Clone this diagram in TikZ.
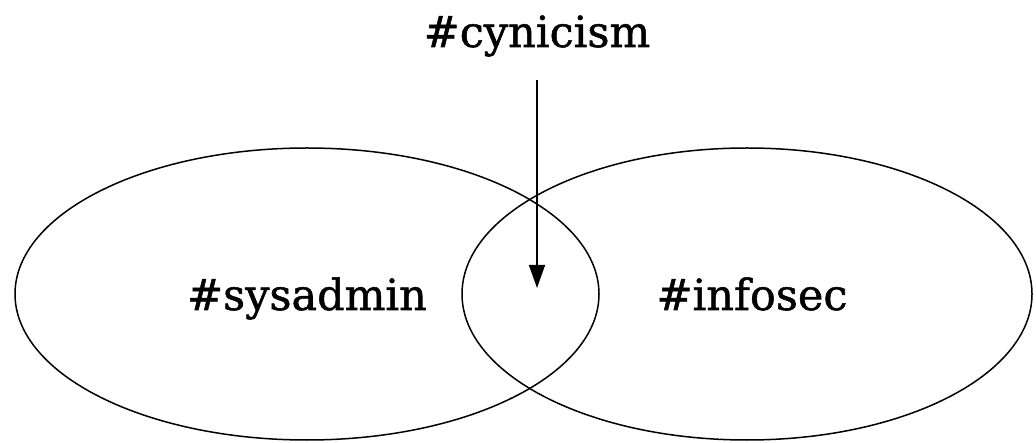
\documentclass[tikz,border=0pt]{standalone}
\usepackage{fontspec}
\setmainfont{DejaVu Serif}[FakeBold=1.2]
\usetikzlibrary{arrows.meta}
\begin{document}
\begin{tikzpicture}[x=1pt,y=-1pt,
  setbox/.style={draw=black,line width=1.5pt},
  label/.style={font=\fontsize{43}{48}\selectfont,inner sep=0pt,anchor=base},
  pointer/.style={line width=1.5pt,-{Triangle[length=23pt,width=16pt]}}]
\useasboundingbox (0,0) rectangle (1036,443);
\draw[setbox] (307,294) ellipse [x radius=292, y radius=146];
\draw[setbox] (747,294) ellipse [x radius=285, y radius=146];
\node[label] (cyn) at (537,47) {\#cynicism};
\node[label] (sys) at (307,310) {\#sysadmin};
\node[label] (inf) at (752,310) {\#infosec};
\coordinate (start) at (537,80);
\coordinate (tip) at (537,288);
\draw[pointer] (start) -- (tip);
\end{tikzpicture}
\end{document}
